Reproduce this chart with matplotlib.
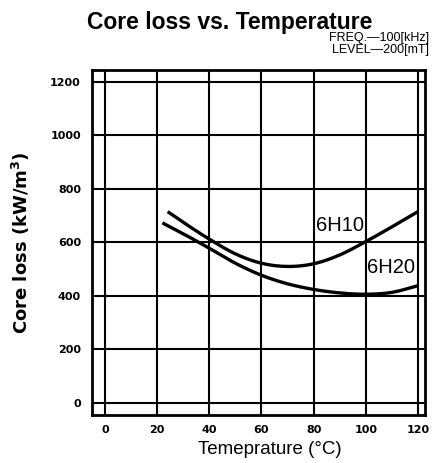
import matplotlib
matplotlib.use("Agg")
import matplotlib.pyplot as plt
import matplotlib.transforms as mtransforms
import numpy as np

plt.rcParams['font.family'] = ['Liberation Sans', 'DejaVu Sans']

# Data
temp_6h10 = [24, 30, 40, 50, 60, 70, 80, 90, 100, 110, 120]
loss_6h10 = [715, 675, 612, 557, 522, 510, 520, 553, 603, 658, 715]
temp_6h20 = [22, 30, 40, 50, 60, 70, 80, 90, 100, 110, 120]
loss_6h20 = [673, 632, 578, 522, 477, 445, 424, 411, 406, 413, 438]

x_ticks = [0, 20, 40, 60, 80, 100, 120]
y_ticks = [0, 200, 400, 600, 800, 1000, 1200]

title = "Core loss vs. Temperature"
cond_lines = ["FREQ.\u2014100[kHz]", "LEVEL\u2014200[mT]"]
xlabel = "Temeprature (\u00b0C)"
ylabel = "Core loss (kW/m$^\\mathbf{3}$)"

fig = plt.figure(figsize=(4.33, 4.63), dpi=100)
ax = fig.add_axes([0.2125, 0.104, 0.769, 0.745])

def smooth(xs, ys, n=300):
    xs = np.asarray(xs, float); ys = np.asarray(ys, float)
    xx = np.linspace(xs[0], xs[-1], n)
    m = np.gradient(ys, xs)
    out = np.empty_like(xx)
    for i, x in enumerate(xx):
        k = min(np.searchsorted(xs, x, side='right') - 1, len(xs) - 2)
        h = xs[k + 1] - xs[k]
        t = (x - xs[k]) / h
        h00 = 2*t**3 - 3*t**2 + 1
        h10 = t**3 - 2*t**2 + t
        h01 = -2*t**3 + 3*t**2
        h11 = t**3 - t**2
        out[i] = h00*ys[k] + h10*h*m[k] + h01*ys[k+1] + h11*h*m[k+1]
    return xx, out

for xs, ys in [(temp_6h10, loss_6h10), (temp_6h20, loss_6h20)]:
    sx, sy = smooth(xs, ys)
    ax.plot(sx, sy, color='black', lw=2.4, solid_capstyle='butt', zorder=3)

ax.set_xlim(-5, 122.7)
ax.set_ylim(-45, 1245)
ax.set_xticks(x_ticks)
ax.set_yticks(y_ticks)
tick_font = dict(family='DejaVu Sans', fontsize=8, fontweight='bold')
ax.set_xticklabels([str(v) for v in x_ticks], **tick_font)
ax.set_yticklabels([str(v) for v in y_ticks], **tick_font)
ax.tick_params(length=0)
ax.tick_params(axis='y', pad=8)
ax.tick_params(axis='x', pad=7)
ax.grid(True, color='black', lw=1.5)
ax.set_axisbelow(True)
for s in ax.spines.values():
    s.set_linewidth(2)

ax.text(81, 628, "6H10", fontsize=14.5, ha='left', va='bottom', zorder=4)
ax.text(100.5, 472, "6H20", fontsize=14.5, ha='left', va='bottom', zorder=4)

fig.text(0.531, 0.952, title, fontsize=16.5, fontweight='bold', ha='center', va='center')
fig.text(0.99, 0.918, cond_lines[0], fontsize=9, ha='right', va='center')
fig.text(0.99, 0.892, cond_lines[1], fontsize=9, ha='right', va='center')

ax.set_xlabel(xlabel, fontsize=13.5)
ax.xaxis.set_label_coords(0.535, -0.075, transform=ax.transAxes)
ax.set_ylabel(ylabel, family='DejaVu Sans', fontsize=13, fontweight='bold')
ax.yaxis.set_label_coords(
    32/433, 0.5,
    transform=mtransforms.blended_transform_factory(fig.transFigure, ax.transAxes))

fig.savefig("out.png", dpi=100)
